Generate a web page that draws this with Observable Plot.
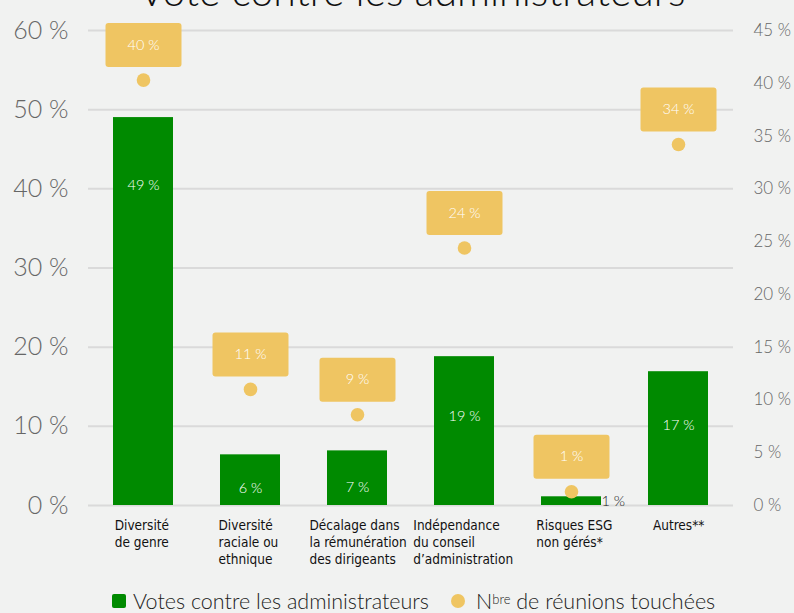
<!DOCTYPE html>
<html>
<head>
<meta charset="utf-8">
<script src="https://cdn.jsdelivr.net/npm/d3@7"></script>
<script src="https://cdn.jsdelivr.net/npm/@observablehq/plot@0.6"></script>
<style>
  html, body { margin: 0; padding: 0; background: #f1f2f1; overflow: hidden; }
  body { width: 794px; height: 613px; position: relative; font-family: Lato, Inter, sans-serif; }
  #title { position: absolute; left: 15px; width: 794px; top: -30px; text-align: center; font-size: 41px; line-height: 41px; font-weight: 300; color: #111; white-space: nowrap; }
  #chart { position: absolute; left: 0; top: 0; }
  #legend { position: absolute; left: 112px; top: 590px; font-size: 21.5px; line-height: 22px; font-weight: 300; color: #222; white-space: nowrap; display: flex; align-items: center; }
  .sw { display: inline-block; width: 14px; height: 14px; margin-right: 7px; border-radius: 2px; }
  .dotsw { display: inline-block; width: 14px; height: 14px; border-radius: 50%; margin-left: 22px; margin-right: 11px; }
  sup { font-size: 13px; position: relative; top: -2px; }
</style>
</head>
<body>
<div id="title">Vote contre les administrateurs</div>
<div id="chart"></div>
<div id="legend"><span class="sw" style="background:#008a00"></span>Votes contre les administrateurs<span class="dotsw" style="background:#efc562"></span>N<sup>bre</sup>&nbsp;de réunions touchées</div>
<script>
// ---- data ----
const categories = [
  "Diversité\nde genre",
  "Diversité\nraciale ou\nethnique",
  "Décalage dans\nla rémunération\ndes dirigeants",
  "Indépendance\ndu conseil\nd’administration",
  "Risques ESG\nnon gérés*",
  "Autres**"
];
const votes = [49, 6.4, 6.9, 18.8, 1.1, 16.9];        // left axis, %
const meetings = [40.3, 11, 8.6, 24.4, 1.3, 34.2];     // right axis, %
const leftTicks = [0, 10, 20, 30, 40, 50, 60];
const rightTicks = [0, 5, 10, 15, 20, 25, 30, 35, 40, 45];

// ---- build ----
const leftMax = 60, rightMax = 45;
const toLeft = v => v * leftMax / rightMax;
const rows = categories.map((c, i) => ({cat: c, vote: votes[i], meet: meetings[i]}));

const GREEN = "#008a00", YELLOW = "#efc562";
const FONT = "Lato, Inter, sans-serif";
const boxSymbol = {
  draw(ctx) {
    const w = 76, h = 44, r = 3;
    const x0 = -w / 2, y0 = -h / 2, x1 = w / 2, y1 = h / 2;
    ctx.moveTo(x0 + r, y0);
    ctx.arcTo(x1, y0, x1, y1, r);
    ctx.arcTo(x1, y1, x0, y1, r);
    ctx.arcTo(x0, y1, x0, y0, r);
    ctx.arcTo(x0, y0, x1, y0, r);
    ctx.closePath();
  }
};

const labelMarks = rows.map(d => {
  const maxLen = Math.max(...d.cat.split("\n").map(s => s.length));
  return Plot.text([d], {
    x: "cat", y: () => 0, text: "cat",
    textAnchor: "start", lineAnchor: "top", lineHeight: 1.27,
    dx: -maxLen * 3.2, dy: 12,
    fontSize: 13.5, fill: "#111",
    fontFamily: "'Liberation Sans Narrow', 'DejaVu Sans Condensed', Roboto, sans-serif"
  });
});

const chart = Plot.plot({
  width: 794, height: 575,
  marginLeft: 88, marginRight: 61, marginTop: 30, marginBottom: 70,
  style: {background: "transparent", fontFamily: FONT},
  x: {domain: categories, paddingInner: 0.44, paddingOuter: 0.22, axis: null},
  y: {domain: [0, leftMax], axis: null},
  marks: [
    Plot.gridY(leftTicks, {stroke: "#dadada", strokeOpacity: 1, strokeWidth: 2}),
    Plot.axisY({anchor: "left", ticks: leftTicks, tickFormat: d => `${d} %`, tickSize: 0, tickPadding: 20, fontSize: 25, fontWeight: 300, color: "#666", label: null}),
    Plot.axisY({anchor: "right", ticks: rightTicks.map(toLeft), tickFormat: d => `${Math.round(d * rightMax / leftMax)} %`, tickSize: 0, tickPadding: 20, fontSize: 17, fontWeight: 300, color: "#666", label: null}),
    Plot.barY(rows, {x: "cat", y: "vote", fill: GREEN}),
    Plot.text(rows.filter(d => d.vote >= 3), {
      x: "cat", y: d => d.vote >= 10 ? Math.max(d.vote - 8.5, d.vote * 0.6) : d.vote / 3, text: d => `${Math.round(d.vote)} %`,
      fill: "white", fontSize: 14.5, fontWeight: 300
    }),
    Plot.text(rows.filter(d => d.vote < 3), {
      x: "cat", y: d => d.vote / 2, text: d => `${Math.round(d.vote)} %`,
      dx: 30, textAnchor: "start", fill: "#222", fontSize: 14.5, fontWeight: 300
    }),
    Plot.dot(rows, {x: "cat", y: d => toLeft(d.meet), r: 6.8, fill: YELLOW}),
    Plot.dot(rows, {x: "cat", y: d => toLeft(d.meet), symbol: boxSymbol, r: 10, fill: YELLOW, dy: -35}),
    Plot.text(rows, {x: "cat", y: d => toLeft(d.meet), text: d => `${Math.round(d.meet)} %`, dy: -35, fill: "white", fontSize: 14.5, fontWeight: 300}),
    ...labelMarks
  ]
});
document.getElementById("chart").append(chart);
</script>
</body>
</html>
